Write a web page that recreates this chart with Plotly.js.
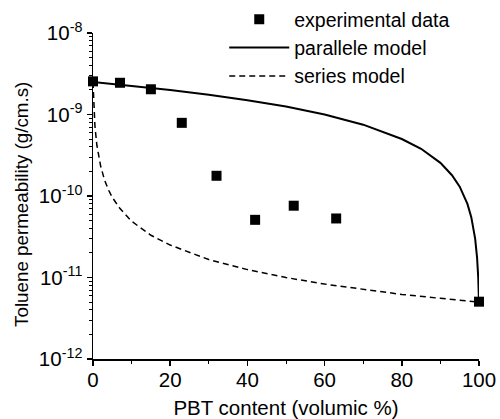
<!DOCTYPE html>
<html>
<head>
<meta charset="utf-8">
<script src="https://cdn.plot.ly/plotly-3.0.1.min.js"></script>
<style>html,body{margin:0;padding:0;background:#fff}#chart{width:500px;height:419px}</style>
</head>
<body>
<div id="chart"></div>
<script>
// Experimental data
const expX = [0, 7, 15, 23, 32, 42, 52, 63, 100];
const expY = [2.55e-9, 2.45e-9, 2.04e-9, 7.9e-10, 1.77e-10, 5.1e-11, 7.6e-11, 5.3e-11, 5.05e-12];
// Parallel model curve
const parX = [0, 10, 20, 30, 40, 50, 60, 70, 80, 85, 90, 93, 95, 97, 98, 99, 99.5, 99.8, 100];
const parY = [2.5e-9, 2.25e-9, 2.0e-9, 1.75e-9, 1.5e-9, 1.25e-9, 1.0e-9, 7.5e-10, 5.0e-10, 3.8e-10, 2.55e-10, 1.8e-10, 1.3e-10, 8.0e-11, 5.5e-11, 3.0e-11, 1.75e-11, 1.0e-11, 5.0e-12];
// Series model curve
const serX = [0, 0.1, 0.2, 0.5, 1, 2, 3, 4, 5, 7, 10, 15, 20, 30, 40, 50, 60, 70, 80, 90, 100];
const serY = [2.5e-9, 1.67e-9, 1.25e-9, 7.2e-10, 4.2e-10, 2.3e-10, 1.57e-10, 1.19e-10, 9.6e-11, 7.0e-11, 4.9e-11, 3.3e-11, 2.5e-11, 1.66e-11, 1.25e-11, 1.0e-11, 8.3e-12, 7.1e-12, 6.2e-12, 5.55e-12, 5.0e-12];
// Tick labels
const yTickVals = [1e-12, 1e-11, 1e-10, 1e-9, 1e-8];
const yTickText = ['10<sup>-12</sup>', '10<sup>-11</sup>', '10<sup>-10</sup>', '10<sup>-9</sup>', '10<sup>-8</sup>'];
const xTickVals = [0, 20, 40, 60, 80, 100];
const xTickText = ['0', '20', '40', '60', '80', '100'];
const legendNames = ['experimental data', 'parallele model', 'series model'];
const xTitle = 'PBT content (volumic %)';
const yTitle = 'Toluene permeability (g/cm.s)';

const yMinor = [];
for (let e = -12; e < -8; e++) for (let m = 2; m <= 9; m++) yMinor.push(m * Math.pow(10, e));

const font = 'Liberation Sans, Arial, Helvetica, sans-serif';
const traces = [
  {x: expX, y: expY, name: legendNames[0], mode: 'markers', type: 'scatter',
   marker: {symbol: 'square', size: 10, color: '#000'}, cliponaxis: false},
  {x: parX, y: parY, name: legendNames[1], mode: 'lines', type: 'scatter',
   line: {color: '#000', width: 2}, cliponaxis: false},
  {x: serX, y: serY, name: legendNames[2], mode: 'lines', type: 'scatter',
   line: {color: '#000', width: 1.5, dash: '6px,4px'}, cliponaxis: false}
];
const layout = {
  width: 500, height: 419,
  margin: {l: 93, r: 21, t: 0, b: 60, autoexpand: false},
  paper_bgcolor: '#fff', plot_bgcolor: '#fff',
  font: {family: font, size: 20, color: '#000'},
  showlegend: true,
  legend: {x: 0.34, y: 1, xanchor: 'left', yanchor: 'top', bgcolor: 'rgba(0,0,0,0)',
           itemwidth: 60,
           font: {family: font, size: 19.5, color: '#000'}, tracegroupgap: 0},
  xaxis: {range: [0, 100], showgrid: false, zeroline: false, showline: true, linewidth: 1.5, linecolor: '#000',
          ticks: 'outside', ticklen: 5, tickwidth: 1.5, tickcolor: '#000', ticklabelstandoff: -3,
          tickmode: 'array', tickvals: xTickVals, ticktext: xTickText,
          minor: {tickmode: 'array', tickvals: [10, 30, 50, 70, 90], ticks: 'outside', ticklen: 3, tickwidth: 1, tickcolor: '#000', showgrid: false},
          tickfont: {family: font, size: 20.5},
          title: {text: xTitle, font: {family: font, size: 20.5}, standoff: 17}},
  yaxis: {type: 'log', range: [-12, -8], domain: [0, 0.9081], showgrid: false, zeroline: false, showline: true, linewidth: 1.5, linecolor: '#000',
          ticks: 'outside', ticklen: 5, tickwidth: 1.5, tickcolor: '#000',
          tickmode: 'array', tickvals: yTickVals, ticktext: yTickText,
          minor: {tickmode: 'array', tickvals: yMinor, ticks: 'outside', ticklen: 3, tickwidth: 1, tickcolor: '#000', showgrid: false},
          tickfont: {family: font, size: 20.5}},
  annotations: [{text: yTitle, xref: 'paper', yref: 'paper', x: -0.184, y: 0.4318,
                 xanchor: 'center', yanchor: 'middle', textangle: -90, showarrow: false,
                 font: {family: font, size: 18.8, color: '#000'}}]
};
Plotly.newPlot('chart', traces, layout, {displayModeBar: false, staticPlot: true});
</script>
</body>
</html>
